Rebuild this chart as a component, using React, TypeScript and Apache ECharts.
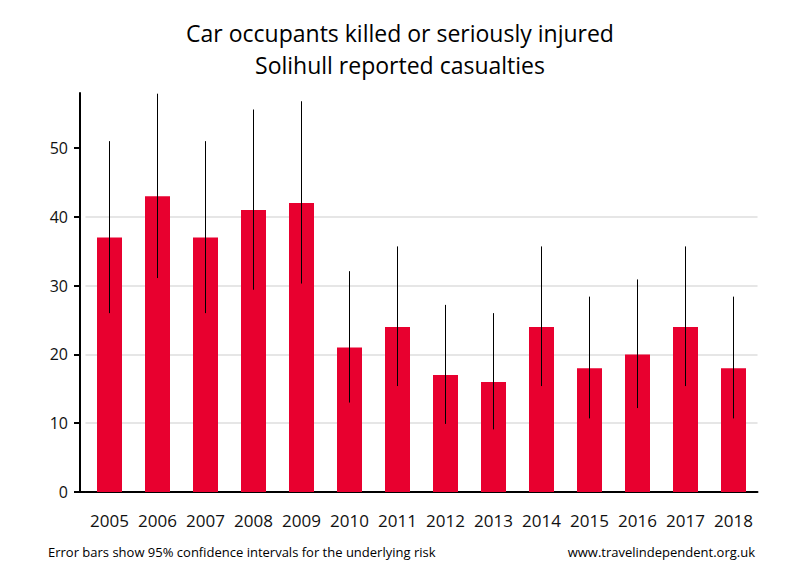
import React, { useEffect, useRef } from "react";
import * as echarts from "echarts";

const years = ["2005", "2006", "2007", "2008", "2009", "2010", "2011", "2012", "2013", "2014", "2015", "2016", "2017", "2018"];
const casualties = [37, 43, 37, 41, 42, 21, 24, 17, 16, 24, 18, 20, 24, 18];
const lowerCI = [26.0, 31.1, 26.0, 29.4, 30.3, 13.0, 15.4, 9.9, 9.1, 15.4, 10.7, 12.2, 15.4, 10.7];
const upperCI = [51.0, 57.9, 51.0, 55.6, 56.8, 32.1, 35.7, 27.2, 26.0, 35.7, 28.4, 30.9, 35.7, 28.4];
const yTicks = [0, 10, 20, 30, 40, 50];

const titleLines = ["Car occupants killed or seriously injured", "Solihull reported casualties"];
const footerLeft = "Error bars show 95% confidence intervals for the underlying risk";
const footerRight = "www.travelindependent.org.uk";

export default function App() {
  const ref = useRef<HTMLDivElement>(null);
  useEffect(() => {
    document.body.style.margin = "0";
    if (!ref.current) return;
    const chart = echarts.init(ref.current, null, { renderer: "svg" });
    const errData = years.map((_, i) => [i, lowerCI[i], upperCI[i]]);
    chart.setOption({
      animation: false,
      backgroundColor: "#fff",
      textStyle: { fontFamily: "Open Sans" },
      title: {
        text: titleLines.join("\n"),
        left: "center",
        top: 12,
        textStyle: { fontFamily: "Open Sans", fontSize: 23, fontWeight: "normal", color: "#000", lineHeight: 32 },
      },
      grid: { left: 85.5, right: 42.5, top: 93, bottom: 88, containLabel: false },
      xAxis: {
        type: "category",
        data: years,
        boundaryGap: true,
        axisLine: { show: true, lineStyle: { color: "#000", width: 2 } },
        axisTick: { show: false },
        axisLabel: { color: "#111", fontSize: 17, margin: 20, interval: 0, fontFamily: "Open Sans" },
        splitLine: { show: false },
      },
      yAxis: {
        type: "value",
        min: 0,
        max: 58,
        interval: 10,
        offset: 5.5,
        axisLine: { show: true, lineStyle: { color: "#000", width: 2 } },
        axisTick: { show: true, length: 6, lineStyle: { color: "#000", width: 2 }, customValues: yTicks },
        axisLabel: { color: "#111", fontSize: 16, margin: 12, fontFamily: "Open Sans", customValues: yTicks },
        splitLine: { show: true, showMaxLine: false, lineStyle: { color: "#e6e6e6", width: 2 } },
      },
      series: [
        {
          type: "bar",
          data: casualties,
          barWidth: 25,
          itemStyle: { color: "#e8002f" },
        },
        {
          type: "custom",
          data: errData,
          encode: { x: 0, y: [1, 2] },
          z: 5,
          renderItem: (params: any, api: any) => {
            const idx = api.value(0);
            const lo = api.coord([idx, api.value(1)]);
            const hi = api.coord([idx, api.value(2)]);
            return {
              type: "line",
              shape: { x1: lo[0], y1: lo[1], x2: hi[0], y2: hi[1] },
              style: { stroke: "#000", lineWidth: 1 },
            };
          },
        },
      ],
      graphic: [
        { type: "line", shape: { x1: 79, y1: 492, x2: 87, y2: 492 }, style: { stroke: "#000", lineWidth: 2 } },
        {
          type: "text",
          left: 48,
          top: 545,
          style: { text: footerLeft, fontFamily: "Open Sans", fontSize: 13, fill: "#000" },
        },
        {
          type: "text",
          right: 45,
          top: 545,
          style: { text: footerRight, fontFamily: "Open Sans", fontSize: 13, fill: "#000" },
        },
      ],
    });
    return () => chart.dispose();
  }, []);
  return <div ref={ref} style={{ width: 800, height: 580 }} />;
}
